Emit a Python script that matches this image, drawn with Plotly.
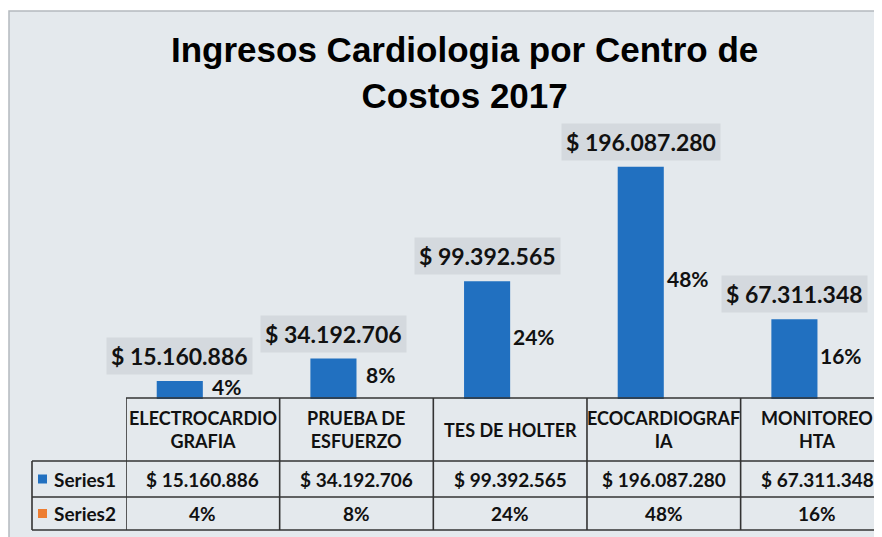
import plotly.graph_objects as go

# ---- data ----
categories = ["ELECTROCARDIO<br>GRAFIA", "PRUEBA DE<br>ESFUERZO", "TES DE HOLTER",
              "ECOCARDIOGRAF<br>IA", "MONITOREO<br>HTA"]
series1_values = [15160886, 34192706, 99392565, 196087280, 67311348]
series2_values = [0.04, 0.08, 0.24, 0.48, 0.16]
series1_labels = ["$ 15.160.886", "$ 34.192.706", "$ 99.392.565", "$ 196.087.280", "$ 67.311.348"]
series2_labels = ["4%", "8%", "24%", "48%", "16%"]
series_names = ["Series1", "Series2"]
title_text = "Ingresos Cardiologia por Centro de<br>Costos 2017"

# ---- style ----
OFF = 8                      # page body margin
W, H = 882 - OFF, 537 - OFF
BG = "#e4e9ed"
BOX = "#d4d9de"
BLUE = "#2170c0"
ORANGE = "#ed7d31"
LINE = "#333333"
TXT = "#111111"
FONT = "Lato, Liberation Sans, Arial, sans-serif"
TFONT = "Liberation Sans, Arial, sans-serif"

def py(p):  # screen pixel row -> paper y
    return 1 - (p - OFF) / H

def px(p):  # screen pixel col -> paper x
    return (p - OFF) / W

cat_ids = list(range(len(categories)))

fig = go.Figure()
fig.add_trace(go.Bar(x=cat_ids, y=series1_values, name=series_names[0],
                     marker=dict(color=BLUE, line=dict(width=0))))
fig.add_trace(go.Bar(x=cat_ids, y=series2_values, name=series_names[1],
                     marker=dict(color=ORANGE, line=dict(width=0))))

shapes = []
annotations = []

# background panel
shapes.append(dict(type="rect", xref="paper", yref="paper", x0=px(9), x1=1.02,
                   y0=-0.02, y1=py(11), fillcolor=BG,
                   line=dict(color="#b4b9be", width=1.5), layer="below"))

# table geometry (screen pixels)
t_top, r1, r2, t_bot = 398, 461, 497, 530
leg_left = 32

shapes.append(dict(type="line", xref="x", yref="paper", x0=-0.5, x1=5,
                   y0=py(t_top), y1=py(t_top), line=dict(color=LINE, width=1.6)))
for yy in (r1, r2, t_bot):
    shapes.append(dict(type="line", xref="paper", yref="paper", x0=px(leg_left), x1=1.02,
                       y0=py(yy), y1=py(yy), line=dict(color=LINE, width=1.6)))
for i in range(len(categories) + 1):
    shapes.append(dict(type="line", xref="x", yref="paper", x0=i - 0.5, x1=i - 0.5,
                       y0=py(t_top), y1=py(t_bot), line=dict(color=LINE, width=1.6)))
shapes.append(dict(type="line", xref="paper", yref="paper", x0=px(leg_left), x1=px(leg_left),
                   y0=py(r1), y1=py(t_bot), line=dict(color=LINE, width=1.6)))

# legend keys in table
for name, col, (a, b) in zip(series_names, [BLUE, ORANGE], [(r1, r2), (r2, t_bot)]):
    c = (a + b) / 2
    shapes.append(dict(type="rect", xref="paper", yref="paper", x0=px(38), x1=px(47),
                       y0=py(c + 4.5), y1=py(c - 4.5), fillcolor=col, line=dict(width=0)))
    annotations.append(dict(text=name, xref="paper", yref="paper", x=px(52), y=py(c),
                            xanchor="left", yanchor="middle", showarrow=False,
                            font=dict(family=FONT, size=19, color=TXT, weight="bold")))

# table text
for i, cat in enumerate(categories):
    annotations.append(dict(text=cat, xref="x", yref="paper", x=i, y=py((t_top + r1) / 2),
                            xanchor="center", yanchor="middle", showarrow=False,
                            font=dict(family=FONT, size=18, color=TXT, weight="bold")))
    annotations.append(dict(text=series1_labels[i], xref="x", yref="paper", x=i,
                            y=py((r1 + r2) / 2), xanchor="center", yanchor="middle",
                            showarrow=False,
                            font=dict(family=FONT, size=19, color=TXT, weight="bold")))
    annotations.append(dict(text=series2_labels[i], xref="x", yref="paper", x=i,
                            y=py((r2 + t_bot) / 2), xanchor="center", yanchor="middle",
                            showarrow=False,
                            font=dict(family=FONT, size=19, color=TXT, weight="bold")))

# data labels
for i in range(len(categories)):
    annotations.append(dict(text=series1_labels[i], x=i, y=series1_values[i], xref="x", yref="y",
                            xshift=-23, yshift=6, xanchor="center", yanchor="bottom",
                            showarrow=False, bgcolor=BOX, borderpad=4,
                            font=dict(family=FONT, size=23, color=TXT, weight="bold")))
    annotations.append(dict(text=series2_labels[i], x=i, y=series1_values[i] / 2, xref="x",
                            yref="y", xshift=24, yshift=4, xanchor="center", yanchor="middle",
                            showarrow=False,
                            font=dict(family=FONT, size=21, color=TXT, weight="bold")))

# title
annotations.append(dict(text=title_text, xref="paper", yref="paper", x=px(464), y=py(73),
                        xanchor="center", yanchor="middle", showarrow=False,
                        font=dict(family=TFONT, size=35, color="#000000", weight="bold")))

fig.update_layout(
    width=W, height=H,
    margin=dict(l=0, r=0, t=0, b=0),
    paper_bgcolor="white",
    plot_bgcolor="rgba(0,0,0,0)",
    barmode="group", bargap=0.4, bargroupgap=0,
    showlegend=False,
    xaxis=dict(type="linear", range=[-0.5, 4.42], domain=[px(126), 1],
               showticklabels=False, showgrid=False, zeroline=False, showline=False),
    yaxis=dict(range=[0, 250e6], domain=[py(399), py(103)],
               showticklabels=False, showgrid=False, zeroline=False, showline=False),
    shapes=shapes,
    annotations=annotations,
)

fig.write_html("out.html")
